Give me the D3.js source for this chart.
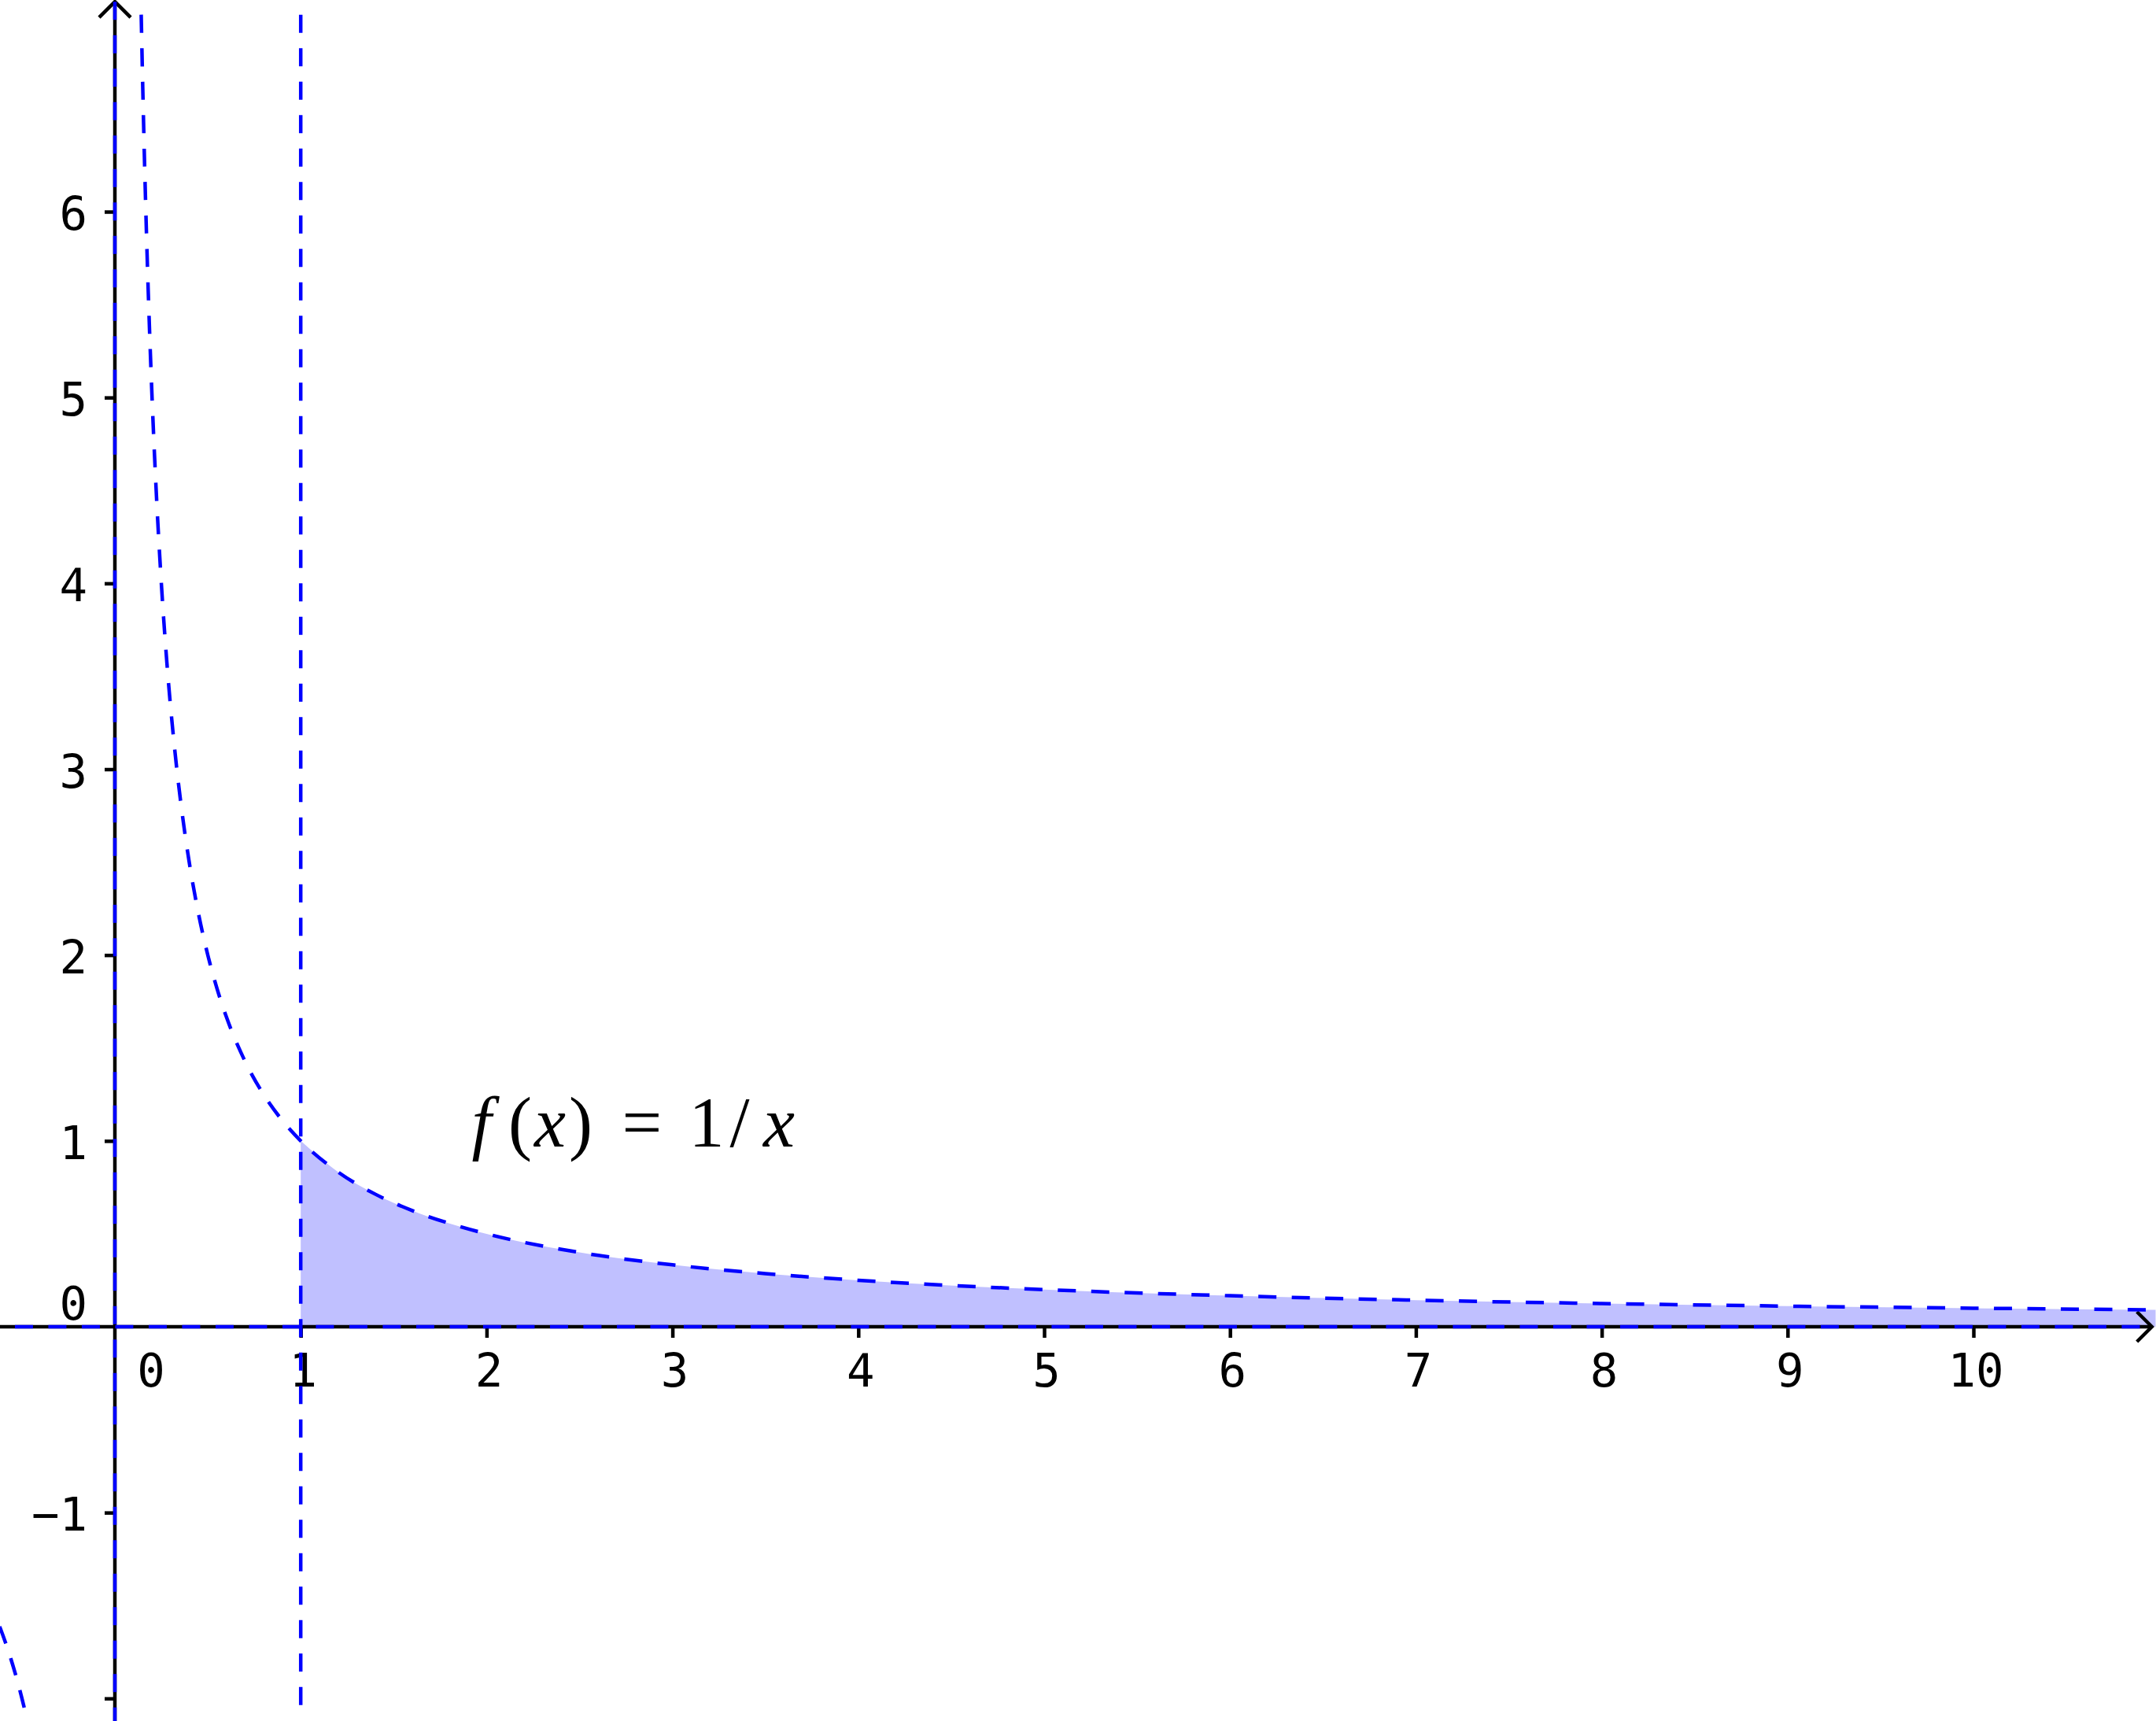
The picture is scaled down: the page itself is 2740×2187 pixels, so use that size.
<!DOCTYPE html>
<html>
<head>
<meta charset="utf-8">
<script src="https://cdn.jsdelivr.net/npm/d3@7/dist/d3.min.js"></script>
<style>
  html, body { margin: 0; padding: 0; background: #ffffff; }
  svg { display: block; }
</style>
</head>
<body>
<svg id="chart" width="2740" height="2187"></svg>
<script>
// ---------- data ----------
const xTickValues = [0, 1, 2, 3, 4, 5, 6, 7, 8, 9, 10];
const xTickLabels = ["0", "1", "2", "3", "4", "5", "6", "7", "8", "9", "10"];
const yTickValues = [-2, -1, 0, 1, 2, 3, 4, 5, 6];
const yLabelValues = [-1, 0, 1, 2, 3, 4, 5, 6];
const yTickLabels = ["\u22121", "0", "1", "2", "3", "4", "5", "6"];

// f(x) = 1/x, positive branch
const curveX = [0.1416, 0.15, 0.16, 0.17, 0.18, 0.2, 0.22, 0.25, 0.28, 0.32, 0.36, 0.4, 0.45, 0.5, 0.55, 0.6, 0.7, 0.8, 0.9, 1.0, 1.2, 1.4, 1.6, 1.8, 2.0, 2.5, 3.0, 3.5, 4.0, 5.0, 6.0, 7.0, 8.0, 9.0, 10.0, 10.93];
const curveY = [7.06, 6.667, 6.25, 5.882, 5.556, 5.0, 4.545, 4.0, 3.571, 3.125, 2.778, 2.5, 2.222, 2.0, 1.818, 1.667, 1.429, 1.25, 1.111, 1.0, 0.833, 0.714, 0.625, 0.556, 0.5, 0.4, 0.333, 0.286, 0.25, 0.2, 0.167, 0.143, 0.125, 0.111, 0.1, 0.0915];
// negative branch visible in the lower left corner
const negX = [-0.62, -0.6, -0.58, -0.56, -0.54, -0.52, -0.5, -0.48, -0.465];
const negY = [-1.613, -1.667, -1.724, -1.786, -1.852, -1.923, -2.0, -2.083, -2.151];
// shaded region: integral of 1/x from 1 to the right edge
const fillStartX = 1.0;
const fillEndX = 10.98;
const fillEndY = 0.0911;
// vertical dashed line x = 1
const vLineX = 1;
const vLineY = [7.06, -2.04];
// axis extents
const xAxisExtent = [-0.62, 10.96];
const yAxisExtent = [-2.13, 7.13];
const hDashExtent = [-0.538, 10.94];

const labelText = [
  { t: "f", italic: true },
  { t: "(", italic: false },
  { t: "x", italic: true },
  { t: ")", italic: false },
  { t: "=", italic: false },
  { t: "1", italic: false },
  { t: "/", italic: false },
  { t: "x", italic: true }
];

// ---------- scales ----------
const x = d3.scaleLinear().domain([0, 10]).range([146, 2508]);
const y = d3.scaleLinear().domain([0, 6]).range([1686, 269]);

const svg = d3.select("#chart");
svg.append("rect").attr("width", 2740).attr("height", 2187).attr("fill", "#ffffff");

const blue = "#0000ff";
const lw = 4.5;
const dash = "23 19.5";

// ---------- shaded area ----------
const fillPts = curveX.map((d, i) => [d, curveY[i]]).filter(p => p[0] >= fillStartX);
fillPts.push([fillEndX, fillEndY]);
svg.append("path")
  .datum(fillPts)
  .attr("fill", "#c0c0ff")
  .attr("stroke", "none")
  .attr("d", d3.area().x(d => x(d[0])).y0(y(0)).y1(d => y(d[1])).curve(d3.curveMonotoneX));

// ---------- black axes ----------
const axes = svg.append("g").attr("stroke", "#000").attr("stroke-width", lw).attr("fill", "none");
axes.append("line")
  .attr("x1", 0).attr("x2", x(xAxisExtent[1]))
  .attr("y1", y(0)).attr("y2", y(0));
axes.append("line")
  .attr("x1", x(0)).attr("x2", x(0))
  .attr("y1", 2187).attr("y2", y(yAxisExtent[1]));
// arrowheads
const tipX = x(xAxisExtent[1]), tipY = y(yAxisExtent[1]);
axes.append("path").attr("d", `M${tipX - 19},${y(0) - 19}L${tipX},${y(0)}L${tipX - 19},${y(0) + 19}`);
axes.append("path").attr("d", `M${x(0) - 20},${tipY + 20}L${x(0)},${tipY}L${x(0) + 20},${tipY + 20}`);

// ticks via d3 axes
const xAxis = d3.axisBottom(x).tickValues(xTickValues.filter(v => v > 0)).tickSize(14).tickFormat("");
const gx = svg.append("g").attr("transform", `translate(0,${y(0)})`).call(xAxis);
gx.select(".domain").remove();
gx.selectAll(".tick line").attr("stroke", "#000").attr("stroke-width", lw);

const yAxis = d3.axisLeft(y).tickValues(yTickValues.filter(v => v !== 0)).tickSize(13).tickFormat("");
const gy = svg.append("g").attr("transform", `translate(${x(0)},0)`).call(yAxis);
gy.select(".domain").remove();
gy.selectAll(".tick line").attr("stroke", "#000").attr("stroke-width", lw);

// tick labels
const font = "'DejaVu Sans Mono', monospace";
svg.append("g").selectAll("text")
  .data(xTickValues)
  .join("text")
  .attr("x", (d) => x(d) + (d === 0 ? 46 : 3))
  .attr("y", 1762)
  .attr("text-anchor", "middle")
  .attr("font-family", font)
  .attr("font-size", 59)
  .attr("fill", "#000")
  .text((d, i) => xTickLabels[i]);

svg.append("g").selectAll("text")
  .data(yLabelValues)
  .join("text")
  .attr("x", 111)
  .attr("y", d => d === 0 ? y(0) - 9 : y(d) + 23)
  .attr("text-anchor", "end")
  .attr("font-family", font)
  .attr("font-size", 59)
  .attr("fill", "#000")
  .text((d, i) => yTickLabels[i]);

// ---------- blue dashed lines ----------
const line = d3.line().x(d => x(d[0])).y(d => y(d[1])).curve(d3.curveMonotoneX);
const blueG = svg.append("g").attr("stroke", blue).attr("stroke-width", lw).attr("fill", "none").attr("stroke-dasharray", dash);
// asymptote y = 0
blueG.append("line").attr("x1", x(hDashExtent[0])).attr("x2", x(hDashExtent[1])).attr("y1", y(0)).attr("y2", y(0));
// asymptote x = 0
blueG.append("line").attr("x1", x(0)).attr("x2", x(0)).attr("y1", y(yAxisExtent[1])).attr("y2", 2187);
// x = 1
blueG.append("line").attr("x1", x(vLineX)).attr("x2", x(vLineX)).attr("y1", y(vLineY[0])).attr("y2", y(vLineY[1]));
// curve
blueG.append("path").datum(curveX.map((d, i) => [d, curveY[i]])).attr("d", line);
blueG.append("path").datum(negX.map((d, i) => [d, negY[i]])).attr("d", line);

// ---------- formula label ----------
const serif = "'Liberation Serif', 'Times New Roman', serif";
const centers = [612, 661, 699, 738, 816, 898, 940, 990];
svg.append("g").selectAll("text")
  .data(labelText)
  .join("text")
  .attr("x", (d, i) => centers[i])
  .attr("y", 1457)
  .attr("text-anchor", "middle")
  .attr("font-family", serif)
  .attr("font-size", 90)
  .attr("font-style", d => d.italic ? "italic" : "normal")
  .attr("fill", "#000")
  .text(d => d.t);
</script>
</body>
</html>
